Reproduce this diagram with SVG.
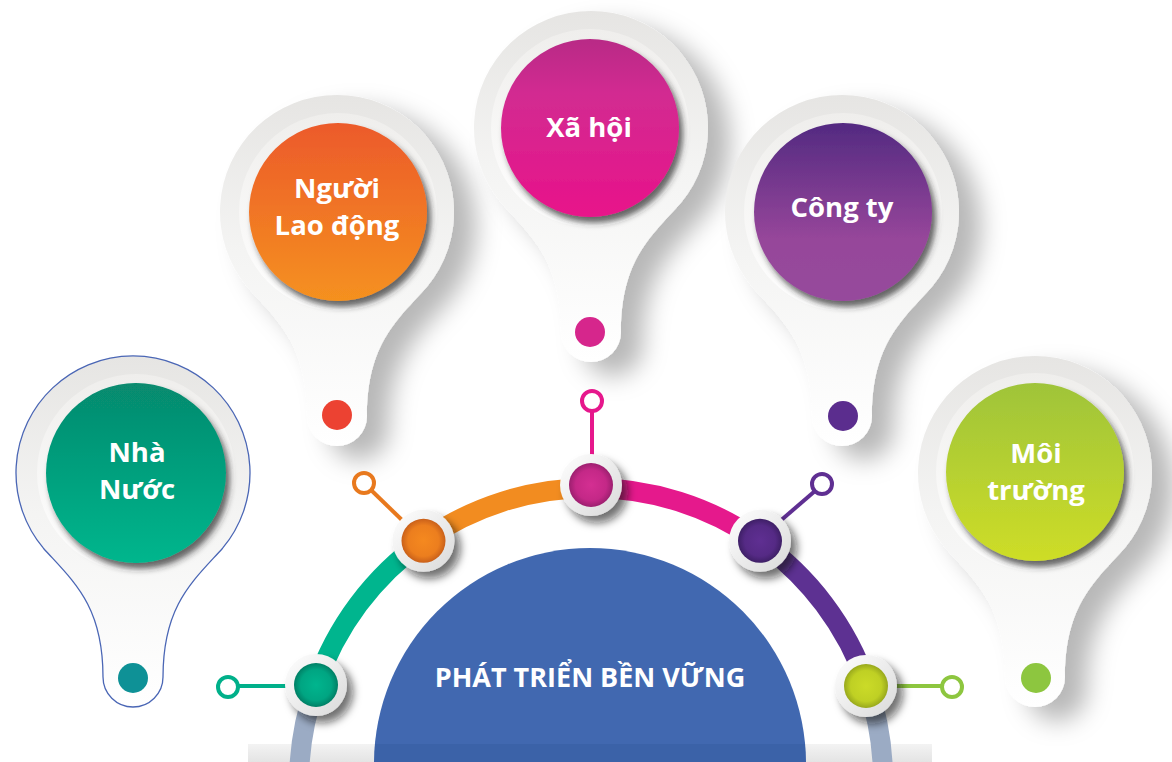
<svg xmlns="http://www.w3.org/2000/svg" xmlns:xlink="http://www.w3.org/1999/xlink" width="1172" height="762" viewBox="0 0 1172 762">
<style>
.lbl{font-family:"Open Sans","Liberation Sans",sans-serif;font-weight:700;font-size:27.5px;fill:#ffffff;text-anchor:middle}
.title{font-family:"Open Sans","Liberation Sans",sans-serif;font-weight:700;font-size:27px;fill:#ffffff;text-anchor:middle}
.seg{fill:none;stroke-width:20}
.stem{stroke-width:4;fill:none}
.ring{fill:#ffffff;stroke-width:4}
</style>
<defs>
<path id="pin" d="M -89.6 75.2 C -60 108, -30 132, -30 204 A 30 30 0 0 0 30 204 C 30 132, 60 108, 89.6 75.2 A 117 117 0 1 0 -89.6 75.2 Z"/>
<linearGradient id="gDisc" x1="0" y1="0" x2="0" y2="1">
<stop offset="0" stop-color="#e6e5e3"/><stop offset="0.45" stop-color="#f4f4f3"/><stop offset="1" stop-color="#ffffff"/>
</linearGradient>
<linearGradient id="gInner" x1="0" y1="0" x2="0" y2="1">
<stop offset="0" stop-color="#efeeec"/><stop offset="1" stop-color="#ffffff"/>
</linearGradient>
<linearGradient id="gTeal" x1="0" y1="0" x2="0" y2="1"><stop offset="0" stop-color="#078a6e"/><stop offset="1" stop-color="#00b68d"/></linearGradient>
<linearGradient id="gOrange" x1="0" y1="0" x2="0" y2="1"><stop offset="0" stop-color="#ec5a2b"/><stop offset="1" stop-color="#f5911f"/></linearGradient>
<linearGradient id="gMagenta" x1="0" y1="0" x2="0" y2="1"><stop offset="0" stop-color="#b82b86"/><stop offset="0.3" stop-color="#d22c91"/><stop offset="1" stop-color="#e8128a"/></linearGradient>
<linearGradient id="gPurple" x1="0" y1="0" x2="0" y2="1"><stop offset="0" stop-color="#532a81"/><stop offset="0.65" stop-color="#96469a"/><stop offset="1" stop-color="#964a9c"/></linearGradient>
<linearGradient id="gLime" x1="0" y1="0" x2="0" y2="1"><stop offset="0" stop-color="#9fc43a"/><stop offset="1" stop-color="#cedd27"/></linearGradient>
<linearGradient id="gKnob" x1="0" y1="0" x2="1" y2="1"><stop offset="0" stop-color="#ffffff"/><stop offset="1" stop-color="#d9d9d9"/></linearGradient>
<radialGradient id="kGreen"><stop offset="0" stop-color="#00b58e"/><stop offset="0.7" stop-color="#00a582"/><stop offset="1" stop-color="#007f65"/></radialGradient>
<radialGradient id="kOrange"><stop offset="0" stop-color="#f5891f"/><stop offset="0.7" stop-color="#ec7e1e"/><stop offset="1" stop-color="#c9601a"/></radialGradient>
<radialGradient id="kMagenta"><stop offset="0" stop-color="#d42f92"/><stop offset="0.7" stop-color="#c42887"/><stop offset="1" stop-color="#9c1f6f"/></radialGradient>
<radialGradient id="kPurple"><stop offset="0" stop-color="#5f2f92"/><stop offset="0.7" stop-color="#552a85"/><stop offset="1" stop-color="#3e1f66"/></radialGradient>
<radialGradient id="kLime"><stop offset="0" stop-color="#cbdb28"/><stop offset="0.7" stop-color="#bfd024"/><stop offset="1" stop-color="#98a81c"/></radialGradient>
<linearGradient id="gBand" x1="0" y1="0" x2="0" y2="1"><stop offset="0" stop-color="#f3f3f3"/><stop offset="1" stop-color="#e4e4e4"/></linearGradient>
<filter id="pinShadow" x="-30%" y="-30%" width="180%" height="170%">
<feDropShadow dx="22" dy="14" stdDeviation="12" flood-color="#000" flood-opacity="0.28"/>
</filter>
<filter id="discShadow" x="-20%" y="-20%" width="150%" height="150%">
<feDropShadow dx="4" dy="6" stdDeviation="3" flood-color="#222" flood-opacity="0.7"/>
</filter>
<filter id="knobShadow" x="-40%" y="-40%" width="200%" height="200%">
<feDropShadow dx="6" dy="7" stdDeviation="4" flood-color="#111" flood-opacity="0.6"/>
</filter>
<clipPath id="domeClip"><path d="M 374 764 A 216 216 0 0 1 806 764 Z"/></clipPath>
</defs>

<rect width="1172" height="762" fill="#ffffff"/>

<!-- Pins -->
<g id="node-nha-nuoc">
<use href="#pin" transform="translate(133,473)" fill="url(#gDisc)" stroke="#4a66b5" stroke-width="1.3"/>
<circle cx="136" cy="473" r="99" fill="url(#gInner)"/>
<circle cx="136" cy="473" r="90" fill="url(#gTeal)" filter="url(#discShadow)"/>
<circle cx="133" cy="678" r="15" fill="#0e9196"/>
<text class="lbl" x="137" y="462">Nhà</text>
<text class="lbl" x="137" y="499">Nước</text>
</g>

<g id="node-nguoi-lao-dong">
<use href="#pin" transform="translate(337,212)" fill="url(#gDisc)" filter="url(#pinShadow)"/>
<circle cx="338" cy="212" r="99" fill="url(#gInner)"/>
<circle cx="338" cy="212" r="89" fill="url(#gOrange)" filter="url(#discShadow)"/>
<circle cx="337" cy="415" r="15" fill="#ec4232"/>
<text class="lbl" x="337" y="198">Người</text>
<text class="lbl" x="337" y="235">Lao động</text>
</g>

<g id="node-xa-hoi">
<use href="#pin" transform="translate(591,128)" fill="url(#gDisc)" filter="url(#pinShadow)"/>
<circle cx="590" cy="128" r="99" fill="url(#gInner)"/>
<circle cx="590" cy="128" r="89" fill="url(#gMagenta)" filter="url(#discShadow)"/>
<circle cx="590" cy="332" r="15" fill="#d6268c"/>
<text class="lbl" x="589" y="137">Xã hội</text>
</g>

<g id="node-cong-ty">
<use href="#pin" transform="translate(842,212)" fill="url(#gDisc)" filter="url(#pinShadow)"/>
<circle cx="843" cy="212" r="99" fill="url(#gInner)"/>
<circle cx="843" cy="212" r="89" fill="url(#gPurple)" filter="url(#discShadow)"/>
<circle cx="843" cy="416" r="15" fill="#5b2d8e"/>
<text class="lbl" x="842" y="217">Công ty</text>
</g>

<g id="node-moi-truong">
<use href="#pin" transform="translate(1035,473)" fill="url(#gDisc)" filter="url(#pinShadow)"/>
<circle cx="1035" cy="472" r="99" fill="url(#gInner)"/>
<circle cx="1035" cy="472" r="89" fill="url(#gLime)" filter="url(#discShadow)"/>
<circle cx="1036" cy="678" r="15" fill="#8dc63f"/>
<text class="lbl" x="1036" y="463">Môi</text>
<text class="lbl" x="1036" y="500">trường</text>
</g>

<!-- Base band -->
<rect x="248" y="744" width="684" height="18" fill="url(#gBand)"/>

<!-- Central dome -->
<g id="node-phat-trien">
<path d="M 374 764 A 216 216 0 0 1 806 764 Z" fill="#4168b0"/>
<rect x="370" y="744" width="440" height="20" fill="#2d4f8e" opacity="0.25" clip-path="url(#domeClip)"/>
<text class="title" x="590" y="687">PHÁT TRIỂN BỀN VỮNG</text>
</g>

<!-- Connectors -->
<g id="connectors">
<path class="seg" stroke="#9babc4" d="M 299 785 A 292 292 0 0 1 315.9 684.9"/>
<path class="seg" stroke="#00b58e" d="M 315.9 684.9 A 292 292 0 0 1 423.5 540.8"/>
<path class="seg" stroke="#f28c20" d="M 423.5 540.8 A 292 292 0 0 1 591 488"/>
<path class="seg" stroke="#e5198c" d="M 591 488 A 292 292 0 0 1 758.5 540.8"/>
<path class="seg" stroke="#5d3192" d="M 758.5 540.8 A 292 292 0 0 1 867.1 684.9"/>
<path class="seg" stroke="#9babc4" d="M 867.1 684.9 A 292 292 0 0 1 883 785"/>

<line class="stem" stroke="#00b08a" x1="238" y1="686" x2="290" y2="686"/>
<circle class="ring" stroke="#00b08a" cx="228" cy="687" r="10"/>
<line class="stem" stroke="#e8791e" x1="371" y1="490" x2="403" y2="521"/>
<circle class="ring" stroke="#e8791e" cx="364" cy="483" r="10"/>
<line class="stem" stroke="#e6178c" x1="592" y1="411" x2="592" y2="462"/>
<circle class="ring" stroke="#e6178c" cx="592" cy="401" r="10"/>
<line class="stem" stroke="#5f2f92" x1="815" y1="491" x2="779" y2="522"/>
<circle class="ring" stroke="#5f2f92" cx="822" cy="484" r="10"/>
<line class="stem" stroke="#8dc63f" x1="895" y1="686" x2="942" y2="686"/>
<circle class="ring" stroke="#8dc63f" cx="952" cy="687" r="10"/>
</g>

<!-- Arc knobs -->
<g id="knob-green">
<circle cx="316" cy="685" r="31" fill="url(#gKnob)" filter="url(#knobShadow)"/>
<circle cx="316" cy="685" r="22" fill="url(#kGreen)"/>
</g>
<g id="knob-orange">
<circle cx="423.5" cy="540.8" r="31" fill="url(#gKnob)" filter="url(#knobShadow)"/>
<circle cx="423.5" cy="540.8" r="22" fill="url(#kOrange)"/>
</g>
<g id="knob-magenta">
<circle cx="591" cy="485" r="31" fill="url(#gKnob)" filter="url(#knobShadow)"/>
<circle cx="591" cy="485" r="22" fill="url(#kMagenta)"/>
</g>
<g id="knob-purple">
<circle cx="760" cy="540.8" r="31" fill="url(#gKnob)" filter="url(#knobShadow)"/>
<circle cx="760" cy="540.8" r="22" fill="url(#kPurple)"/>
</g>
<g id="knob-lime">
<circle cx="866" cy="686" r="31" fill="url(#gKnob)" filter="url(#knobShadow)"/>
<circle cx="866" cy="686" r="22" fill="url(#kLime)"/>
</g>
</svg>
